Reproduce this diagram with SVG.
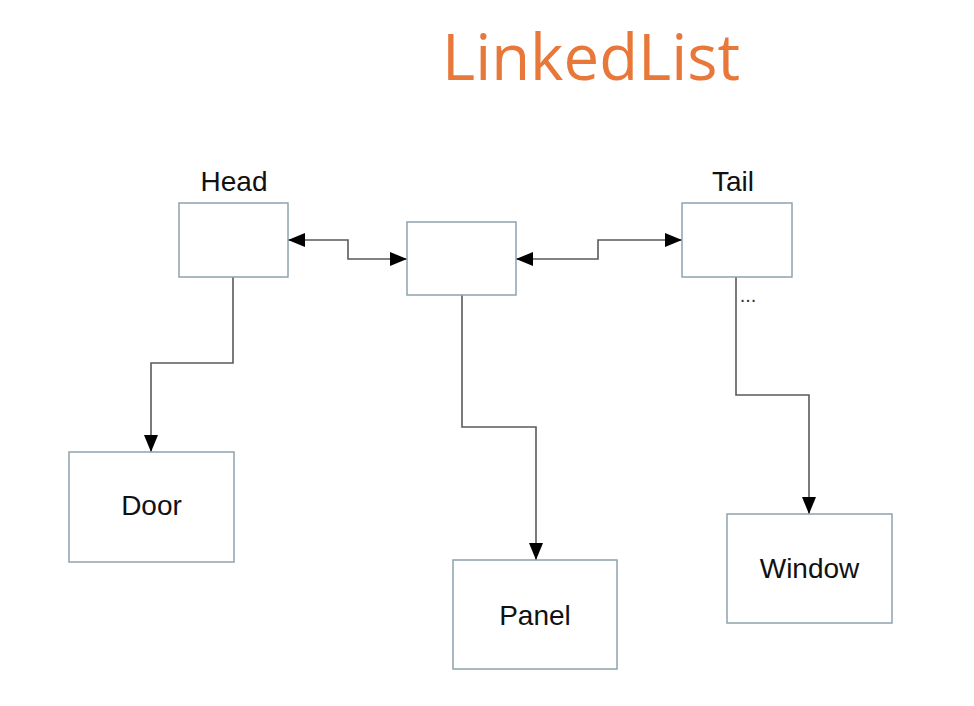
<svg xmlns="http://www.w3.org/2000/svg" width="974" height="706" viewBox="0 0 974 706">
<style>
.box{fill:#fff;stroke:#8fa3ad;stroke-width:1.5}
.lbl{font-family:"Liberation Sans",Arial,sans-serif;font-size:28px;fill:#111;text-anchor:middle}
.con{fill:none;stroke:#5a5a5a;stroke-width:1.6}
.title{font-family:"Open Sans","Noto Sans",sans-serif;font-size:63.5px;fill:#E8783A}
</style>
<defs>
<marker id="arr" markerUnits="userSpaceOnUse" markerWidth="18" markerHeight="14" viewBox="0 0 18 14" refX="17" refY="7" orient="auto-start-reverse">
<path d="M0,0 L17,7 L0,14 Z" fill="#000"/>
</marker>
</defs>
<rect width="974" height="706" fill="#fff"/>
<text class="title" x="442" y="80">LinkedList</text>
<g id="connectors">
<path class="con" d="M288,240 H348 V259 H407" marker-start="url(#arr)" marker-end="url(#arr)"/>
<path class="con" d="M516,259 H598 V240 H682" marker-start="url(#arr)" marker-end="url(#arr)"/>
<path class="con" d="M233,277 V363 H151 V452" marker-end="url(#arr)"/>
<path class="con" d="M462,295 V427 H536 V560" marker-end="url(#arr)"/>
<path class="con" d="M736,277 V395 H809 V514" marker-end="url(#arr)"/>
</g>
<g id="head">
<rect class="box" x="179" y="203" width="109" height="74"/>
<text class="lbl" x="234" y="191">Head</text>
</g>
<g id="middle">
<rect class="box" x="407" y="222" width="109" height="73"/>
</g>
<g id="tail">
<rect class="box" x="682" y="203" width="110" height="74"/>
<text class="lbl" x="733" y="191">Tail</text>
<text class="lbl" x="748" y="302" style="font-size:20px;fill:#333">...</text>
</g>
<g id="door">
<rect class="box" x="69" y="452" width="165" height="110"/>
<text class="lbl" x="151.5" y="515">Door</text>
</g>
<g id="panel">
<rect class="box" x="453" y="560" width="164" height="109"/>
<text class="lbl" x="535" y="625">Panel</text>
</g>
<g id="window">
<rect class="box" x="727" y="514" width="165" height="109"/>
<text class="lbl" x="809.5" y="578">Window</text>
</g>
</svg>
